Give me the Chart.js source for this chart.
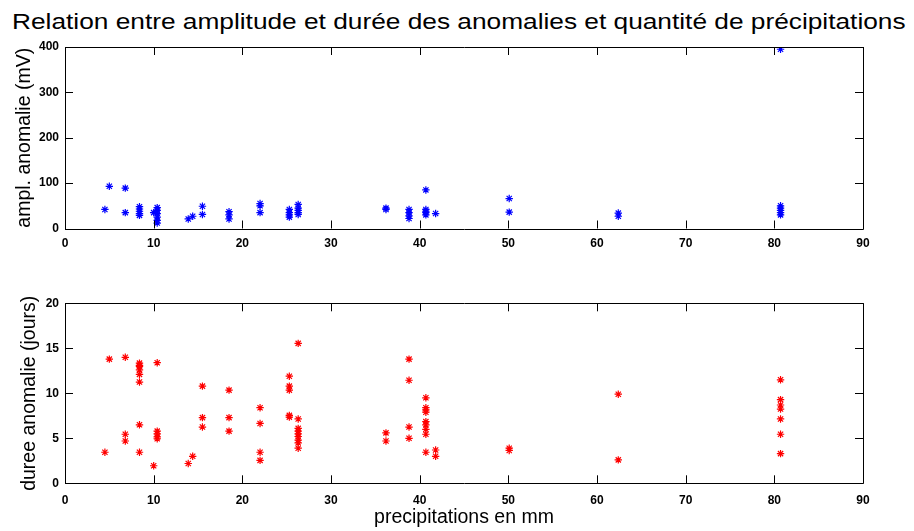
<!DOCTYPE html>
<html>
<head>
<meta charset="utf-8">
<script src="https://cdn.jsdelivr.net/npm/chart.js@4"></script>
<style>
  html, body { margin: 0; padding: 0; background: #fff; }
  body { width: 914px; height: 531px; position: relative; overflow: hidden; }
  #title { position: absolute; left: 0; top: 9px; white-space: nowrap; font-family: "Liberation Sans", Arial, sans-serif; font-size: 22px; line-height: 26px; color: #000; transform-origin: 0 0; }
  .box { position: absolute; left: 0; width: 914px; }
</style>
</head>
<body>
<div id="title">Relation entre amplitude et durée des anomalies et quantité de précipitations</div>
<div class="box" style="top:0;height:262px"><canvas id="c1"></canvas></div>
<div class="box" style="top:262px;height:269px"><canvas id="c2"></canvas></div>
<script>
// ---- data ----
const xTicks = [0, 10, 20, 30, 40, 50, 60, 70, 80, 90];
const amplTicks = [0, 100, 200, 300, 400];
const dureeTicks = [0, 5, 10, 15, 20];

const amplPrecip = [4.5, 5.0, 6.8, 6.8, 8.4, 8.4, 8.4, 8.4, 8.4, 10.0, 10.4, 10.4, 10.4, 10.4, 10.4, 10.4,
  13.9, 14.4, 15.5, 15.5, 18.5, 18.5, 18.5, 22.0, 22.0, 22.0, 25.3, 25.3, 25.3, 25.3,
  26.3, 26.3, 26.3, 26.3, 26.3, 36.2, 36.2, 38.8, 38.8, 38.8, 38.8, 40.7, 40.7, 40.7, 40.7, 40.7,
  41.8, 50.1, 50.1, 62.4, 62.4, 80.7, 80.7, 80.7, 80.7, 80.7, 80.7];
const amplValues = [42, 93, 89, 35, 48, 43, 38, 33, 29, 35, 46, 40, 33, 25, 18, 12,
  21, 27, 49, 31, 37, 30, 21, 55, 50, 35, 42, 35, 30, 25,
  53, 45, 40, 35, 31, 45, 42, 42, 35, 28, 22, 85, 42, 38, 35, 30,
  33, 66, 36, 34, 27, 50, 45, 40, 35, 30, 395];

const dureePrecip = [4.5, 5.0, 6.8, 6.8, 6.8, 8.4, 8.4, 8.4, 8.4, 8.4, 8.4, 8.4, 8.4, 10.4, 10.4, 10.4, 10.4, 10.4, 10.0,
  13.9, 14.4, 15.5, 15.5, 15.5, 18.5, 18.5, 18.5, 22.0, 22.0, 22.0, 22.0,
  25.3, 25.3, 25.3, 25.3, 25.3, 26.3, 26.3, 26.3, 26.3, 26.3, 26.3, 26.3, 26.3, 26.3,
  36.2, 36.2, 38.8, 38.8, 38.8, 38.8, 40.7, 40.7, 40.7, 40.7, 40.7, 40.7, 40.7, 40.7, 40.7, 41.8, 41.8,
  50.1, 50.1, 62.4, 62.4, 80.7, 80.7, 80.7, 80.7, 80.7, 80.7, 80.7];
const dureeValues = [3.45, 13.8, 14.0, 5.45, 4.7, 13.35, 13.1, 12.6, 12.1, 11.25, 6.5, 3.45, 13.0, 13.4, 5.8, 5.5, 5.15, 4.95, 1.95,
  2.2, 3.0, 10.8, 7.3, 6.25, 10.35, 7.3, 5.8, 8.4, 6.65, 3.45, 2.55,
  11.9, 10.8, 10.35, 7.55, 7.35, 15.55, 7.15, 6.1, 5.8, 5.5, 5.2, 4.8, 4.5, 3.9,
  5.6, 4.7, 13.8, 11.45, 6.25, 5.0, 9.5, 8.4, 8.15, 7.9, 6.85, 6.5, 6.0, 5.45, 3.45, 3.7, 3.0,
  3.9, 3.65, 9.9, 2.6, 11.5, 9.3, 8.7, 8.25, 7.15, 5.45, 3.3];

// ---- helpers ----
function pts(xs, ys) { return xs.map((x, i) => ({ x: x, y: ys[i] })); }

const tickFont = { family: "Liberation Sans, Arial, sans-serif", size: 12, weight: 'bold' };
const titleFont = { family: "Liberation Sans, Arial, sans-serif", size: 19.5 };

const boxTicks = {
  id: 'boxTicks',
  afterDraw(chart) {
    const { ctx, chartArea: a, scales } = chart;
    ctx.save();
    ctx.strokeStyle = '#000';
    ctx.lineWidth = 1;
    ctx.beginPath();
    ctx.rect(Math.round(a.left) + 0.5, Math.round(a.top) + 0.5, Math.round(a.right - a.left), Math.round(a.bottom - a.top));
    const L = 8;
    scales.x.ticks.forEach(t => {
      const p = Math.round(scales.x.getPixelForValue(t.value)) + 0.5;
      ctx.moveTo(p, a.bottom); ctx.lineTo(p, a.bottom - L);
      ctx.moveTo(p, a.top); ctx.lineTo(p, a.top + L);
    });
    scales.y.ticks.forEach(t => {
      const p = Math.round(scales.y.getPixelForValue(t.value)) + 0.5;
      ctx.moveTo(a.left, p); ctx.lineTo(a.left + L, p);
      ctx.moveTo(a.right, p); ctx.lineTo(a.right - L, p);
    });
    ctx.stroke();
    ctx.restore();
  }
};

function makeChart(id, data, color, yMin, yMax, yTicks, yTitle, xTitle, padTop, xHeight, yTitlePad, xTickPad) {
  return new Chart(document.getElementById(id), {
    type: 'scatter',
    data: { datasets: [{ data: data, pointStyle: 'star', pointRadius: 3.7, borderColor: color, backgroundColor: color, borderWidth: 1.2 }] },
    plugins: [boxTicks],
    options: {
      responsive: true, maintainAspectRatio: false, animation: false,
      layout: { padding: { top: padTop, right: 914 - 863, left: 0, bottom: 0 } },
      plugins: { legend: { display: false }, tooltip: { enabled: false } },
      scales: {
        x: {
          type: 'linear', min: 0, max: 90,
          afterBuildTicks: s => { s.ticks = xTicks.map(v => ({ value: v })); },
          afterFit: s => { s.height = xHeight; },
          grid: { display: false, drawTicks: false }, border: { display: false },
          ticks: { font: tickFont, color: '#000', padding: xTickPad, maxRotation: 0 },
          title: xTitle ? { display: true, text: xTitle, font: titleFont, color: '#000', padding: { top: 0, bottom: 2 } } : { display: false }
        },
        y: {
          type: 'linear', min: yMin, max: yMax,
          afterBuildTicks: s => { s.ticks = yTicks.map(v => ({ value: v })); },
          ticks: { font: tickFont, color: '#000', padding: 6 },
          afterFit: s => { s.width = 65; },
          grid: { display: false, drawTicks: false }, border: { display: false },
          title: { display: true, text: yTitle, font: titleFont, color: '#000', padding: { top: yTitlePad, bottom: 0 } }
        }
      }
    }
  });
}

makeChart('c1', pts(amplPrecip, amplValues), '#0000ff', 0, 400, amplTicks, 'ampl. anomalie (mV)', null, 47, 262 - 228.5, 13, 8);
makeChart('c2', pts(dureePrecip, dureeValues), '#ff0000', 0, 20, dureeTicks, 'duree anomalie (jours)', 'precipitations en mm', 303.3 - 262, 531 - 483.3, 18, 10);

// fit title width to reference (x 12 .. 905)
const t = document.getElementById('title');
const w = t.offsetWidth;
t.style.left = '12px';
t.style.transform = 'scaleX(' + (893 / w) + ')';
</script>
</body>
</html>
